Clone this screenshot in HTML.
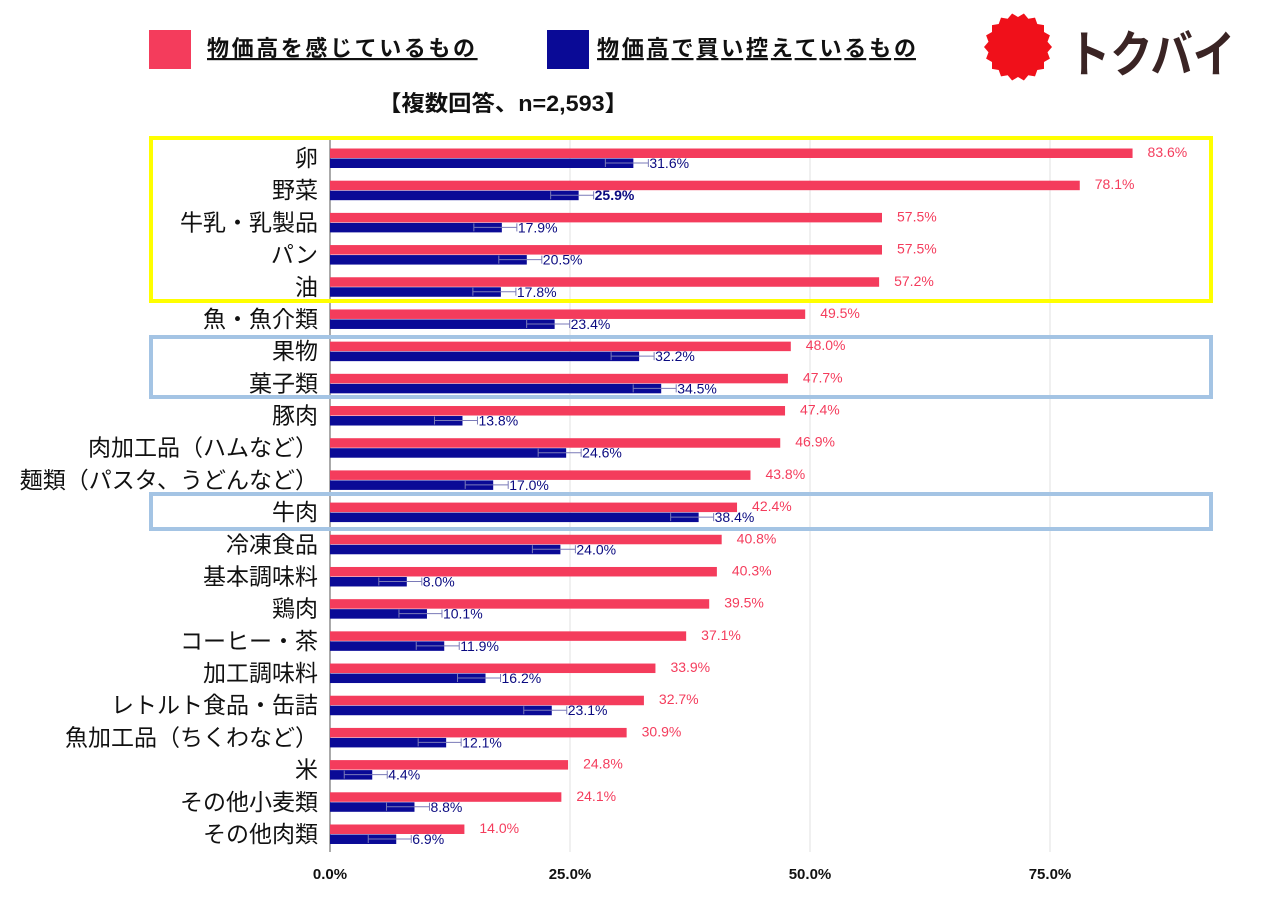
<!DOCTYPE html>
<html><head><meta charset="utf-8">
<style>
html,body{margin:0;padding:0;background:#fff;width:1264px;height:904px;overflow:hidden}
svg{display:block;font-family:"Liberation Sans","Noto Sans CJK JP",sans-serif}
</style></head>
<body>
<svg id="chart" width="1264" height="904">
  <g>
    <rect x="149" y="30" width="42" height="39" fill="#f43c5c"/>
    <text x="207" y="56" font-size="22" font-weight="bold" letter-spacing="2.6" text-decoration="underline" fill="#111">物価高を感じているもの</text>
    <rect x="547" y="30" width="42" height="39" fill="#0a0a96"/>
    <text x="597" y="56" font-size="22" font-weight="bold" textLength="319" lengthAdjust="spacing" text-decoration="underline" fill="#111">物価高で買い控えているもの</text>
  </g>
  <text x="378" y="111" font-size="22" font-weight="bold" textLength="250" lengthAdjust="spacingAndGlyphs" fill="#111">【複数回答、n=2,593】</text>
  <g>
    <polygon id="burst" fill="#f0101a"/>
    <text x="1068" y="72" font-size="50" font-weight="bold" fill="#3a2424" textLength="167" lengthAdjust="spacingAndGlyphs">トクバイ</text>
  </g>
  <g id="grid"></g>
  <g id="bars"></g>
  <rect x="151" y="138" width="1060" height="163" fill="none" stroke="#ffff00" stroke-width="4"/>
  <rect x="151" y="337" width="1060" height="60" fill="none" stroke="#a4c4e4" stroke-width="4"/>
  <rect x="151" y="494" width="1060" height="35" fill="none" stroke="#a4c4e4" stroke-width="4"/>
</svg>
<script>
const categories=["卵","野菜","牛乳・乳製品","パン","油","魚・魚介類","果物","菓子類","豚肉","肉加工品（ハムなど）","麺類（パスタ、うどんなど）","牛肉","冷凍食品","基本調味料","鶏肉","コーヒー・茶","加工調味料","レトルト食品・缶詰","魚加工品（ちくわなど）","米","その他小麦類","その他肉類"];
const feltValues=[83.6,78.1,57.5,57.5,57.2,49.5,48.0,47.7,47.4,46.9,43.8,42.4,40.8,40.3,39.5,37.1,33.9,32.7,30.9,24.8,24.1,14.0];
const refrainValues=[31.6,25.9,17.9,20.5,17.8,23.4,32.2,34.5,13.8,24.6,17.0,38.4,24.0,8.0,10.1,11.9,16.2,23.1,12.1,4.4,8.8,6.9];
const tickValues=[0,25,50,75];
const tickLabels=["0.0%","25.0%","50.0%","75.0%"];

const NS="http://www.w3.org/2000/svg";
const x0=330,pxPer=9.6,rowTop=158,rowStep=32.19;
const xs=v=>x0+v*pxPer;
const ys=i=>rowTop+i*rowStep;
function mk(tag,attrs,parent){const e=document.createElementNS(NS,tag);for(const k in attrs)e.setAttribute(k,attrs[k]);parent.appendChild(e);return e;}

(function(){const cx=1018,cy=47,n=18,pts=[];for(let i=0;i<n*2;i++){const r=i%2?30:34;const a=Math.PI*i/n;pts.push((cx+r*Math.cos(a)).toFixed(1)+","+(cy+r*Math.sin(a)).toFixed(1));}document.getElementById('burst').setAttribute('points',pts.join(' '));})();

const grid=document.getElementById('grid');
tickValues.forEach((t,i)=>{
  if(t>0){const l=mk('line',{x1:xs(t),x2:xs(t),y1:140,y2:852,stroke:'#e2e2e2','stroke-width':1},grid);
  
  }
  const tx=mk('text',{x:xs(t),y:879,'font-size':15,'font-weight':'bold','text-anchor':'middle',fill:'#111'},grid);
  tx.textContent=tickLabels[i];
  
  
});
const ax=mk('line',{x1:x0,x2:x0,y1:140,y2:852,stroke:'#555','stroke-width':1},grid);



const bars=document.getElementById('bars');
categories.forEach((c,i)=>{
  const y=ys(i);
  const lab=mk('text',{x:318,y:y+8,'font-size':23,'text-anchor':'end',fill:'#111'},bars);
  lab.textContent=c;
  
  
  const r=mk('rect',{x:x0,y:y-9.5,width:xs(feltValues[i])-x0,height:9.5,fill:'#f43c5c'},bars);
  
  
  const rv=mk('text',{x:xs(feltValues[i])+15,y:y-1,'font-size':14,fill:'#f43c5c'},bars);
  rv.textContent=feltValues[i].toFixed(1)+'%';
  
  
  const bx=xs(refrainValues[i]);
  const b=mk('rect',{x:x0,y:y+0.5,width:bx-x0,height:9.5,fill:'#0a0a96'},bars);
  
  
  const eb=mk('path',{d:`M${bx-28} ${y+5}H${bx+15}M${bx-28} ${y+1}V${y+9}M${bx+15} ${y+1}V${y+9}`,stroke:'#7a7ab8','stroke-width':1,fill:'none'},bars);
  
  
  const bv=mk('text',{x:bx+16,y:y+10,'font-size':14,fill:'#0a0a80','font-weight':i===1?'bold':'normal'},bars);
  bv.textContent=refrainValues[i].toFixed(1)+'%';
  
  
});
</script>
</body></html>
